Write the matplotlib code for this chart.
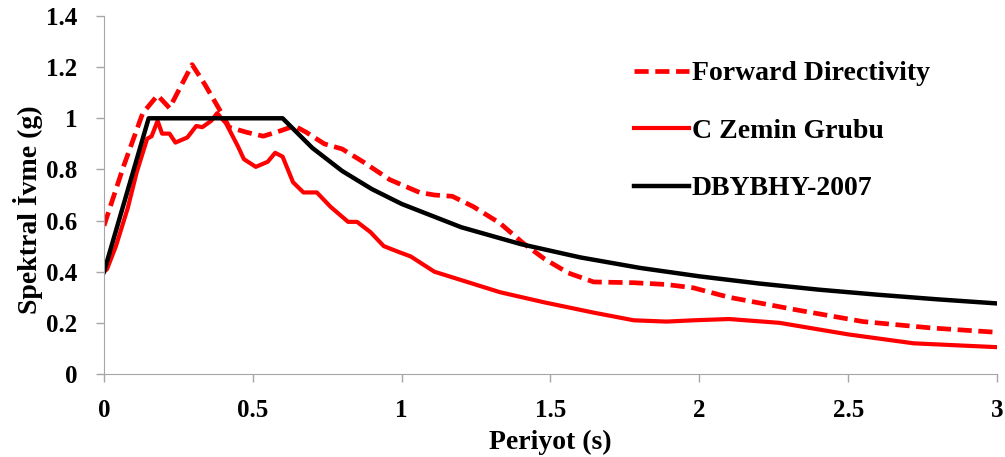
import matplotlib
matplotlib.use('Agg')
import matplotlib.pyplot as plt

plt.rcParams['font.family'] = ['Liberation Serif', 'DejaVu Serif']
plt.rcParams['font.weight'] = 'bold'

# Forward Directivity (dashed red)
fd_t = [0.0, 0.065, 0.13, 0.18, 0.22, 0.296, 0.34, 0.38, 0.40, 0.42, 0.48, 0.535,
        0.59, 0.64, 0.68, 0.74, 0.80, 0.87, 0.96, 1.0, 1.06, 1.11, 1.17, 1.24, 1.33,
        1.41, 1.48, 1.56, 1.645, 1.78, 1.89, 1.98, 2.1, 2.33, 2.55, 2.78, 3.0]
fd_sa = [0.58, 0.81, 1.02, 1.09, 1.04, 1.21, 1.13, 1.05, 1.01, 0.965, 0.945, 0.93,
         0.95, 0.97, 0.945, 0.90, 0.88, 0.83, 0.76, 0.74, 0.71, 0.70, 0.695, 0.655, 0.59,
         0.51, 0.45, 0.395, 0.36, 0.357, 0.35, 0.337, 0.30, 0.25, 0.205, 0.18, 0.163]

# C Zemin Grubu (solid red)
cz_t = [0.0, 0.01, 0.04, 0.08, 0.11, 0.145, 0.16, 0.18, 0.195, 0.22, 0.24, 0.28,
        0.31, 0.33, 0.36, 0.38, 0.41, 0.45, 0.47, 0.51, 0.55, 0.575, 0.60, 0.635,
        0.67, 0.715, 0.76, 0.82, 0.85, 0.895, 0.94, 0.995, 1.03, 1.11, 1.22, 1.33,
        1.48, 1.645, 1.78, 1.89, 1.98, 2.1, 2.27, 2.5, 2.72, 3.0]
cz_sa = [0.40, 0.41, 0.50, 0.65, 0.79, 0.92, 0.93, 0.99, 0.94, 0.94, 0.905, 0.925,
         0.97, 0.965, 0.99, 1.02, 0.98, 0.89, 0.84, 0.81, 0.83, 0.865, 0.85, 0.75,
         0.71, 0.71, 0.655, 0.595, 0.595, 0.555, 0.50, 0.475, 0.46, 0.40, 0.36, 0.32,
         0.28, 0.24, 0.21, 0.205, 0.21, 0.215, 0.20, 0.155, 0.12, 0.105]

# DBYBHY-2007 design spectrum (black)
db_t = [0.0, 0.15, 0.6, 0.7, 0.8, 0.9, 1.0, 1.2, 1.4, 1.6, 1.8, 2.0, 2.2, 2.4,
        2.6, 2.8, 3.0]
db_sa = [0.40, 1.0, 1.0, 0.884, 0.794, 0.723, 0.665, 0.574, 0.508, 0.456, 0.415,
         0.382, 0.354, 0.330, 0.310, 0.292, 0.276]

fig = plt.figure(figsize=(10.05, 4.57), dpi=100)
ax = fig.add_axes([0.1035, 0.1816, 0.8885, 0.7834])

ax.plot(fd_t, fd_sa, color='#ff0000', lw=3.4, dashes=(3, 1.4),
        label='Forward Directivity')
ax.plot(cz_t, cz_sa, color='#ff0000', lw=3.0, label='C Zemin Grubu')
ax.plot(db_t, db_sa, color='black', lw=3.2, label='DBYBHY-2007')

ax.set_xlim(0, 3)
ax.set_ylim(0, 1.4)
ax.set_xticks([0, 0.5, 1, 1.5, 2, 2.5, 3])
ax.set_xticklabels(['0', '0.5', '1', '1.5', '2', '2.5', '3'])
ax.set_yticks([0, 0.2, 0.4, 0.6, 0.8, 1.0, 1.2, 1.4])
ax.set_yticklabels(['0', '0.2', '0.4', '0.6', '0.8', '1', '1.2', '1.4'])

for s in ['top', 'right']:
    ax.spines[s].set_visible(False)
for s in ['left', 'bottom']:
    ax.spines[s].set_color('#a6a6a6')
ax.tick_params(direction='out', color='#a6a6a6', length=6, labelsize=18,
               width=1)
ax.tick_params(axis='y', pad=13)
ax.tick_params(axis='x', pad=12)

ax.set_xlabel('Periyot (s)', fontsize=20, fontweight='bold', labelpad=6)
ax.set_ylabel('Spektral İvme (g)', fontsize=20, fontweight='bold')
ax.yaxis.set_label_coords(-0.068, 0.46)

ax.legend(loc='upper left', bbox_to_anchor=(0.565, 0.944), frameon=False,
          fontsize=20, handlelength=2.0, handletextpad=0.1, labelspacing=1.15)

fig.savefig('out.png', dpi=100)
